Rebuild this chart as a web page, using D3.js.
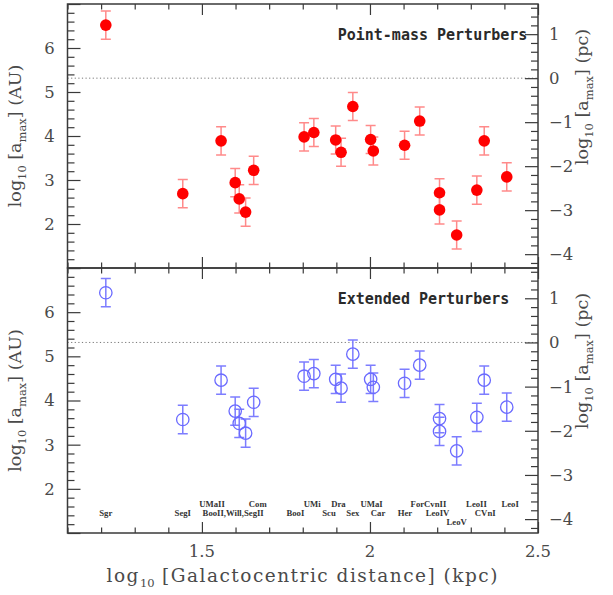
<!DOCTYPE html>
<html>
<head>
<meta charset="utf-8">
<script src="https://cdn.jsdelivr.net/npm/d3@7"></script>
<style>
  body { margin: 0; background: #fff; }
  svg { display: block; }
</style>
</head>
<body>
<svg id="chart" width="613" height="595"></svg>
<script>
'use strict';

// log10 of Galactocentric distance (kpc), one per satellite
var logDistance = [1.214, 1.443, 1.557, 1.599, 1.611, 1.630, 1.654, 1.804, 1.833, 1.898, 1.914,
                   1.949, 2.002, 2.010, 2.103, 2.148, 2.207, 2.207, 2.258, 2.318, 2.340, 2.407];

// log10 a_max (AU), point-mass perturbers
var pointMass = [6.52, 2.69, 3.89, 2.94, 2.57, 2.27, 3.22, 3.98, 4.08, 3.91, 3.63,
                 4.67, 3.92, 3.66, 3.79, 4.34, 2.71, 2.32, 1.75, 2.77, 3.89, 3.07];
var pointMassErr = [0.32, 0.32, 0.32, 0.32, 0.32, 0.32, 0.32, 0.32, 0.32, 0.32, 0.32,
                    0.32, 0.32, 0.32, 0.32, 0.32, 0.32, 0.32, 0.32, 0.32, 0.32, 0.32];

// log10 a_max (AU), extended perturbers
var extended = [6.44, 3.57, 4.46, 3.76, 3.48, 3.26, 3.96, 4.55, 4.61, 4.48, 4.28,
                5.05, 4.48, 4.30, 4.39, 4.80, 3.59, 3.30, 2.86, 3.62, 4.46, 3.85];
var extendedErr = [0.32, 0.32, 0.32, 0.32, 0.32, 0.32, 0.32, 0.32, 0.32, 0.32, 0.32,
                   0.32, 0.32, 0.32, 0.32, 0.32, 0.32, 0.32, 0.32, 0.32, 0.32, 0.32];

// satellite name labels: text, x position (log kpc), row (0 = top)
var labelNames = ['Sgr', 'SegI', 'UMaII', 'BooII,Will,SegII', 'Com', 'BooI', 'UMi', 'Scu', 'Dra', 'Sex',
                  'UMaI', 'Car', 'Her', 'ForCvnII', 'LeoIV', 'LeoV', 'LeoII', 'CVnI', 'LeoI'];
var labelX = [1.214, 1.443, 1.530, 1.593, 1.666, 1.778, 1.828, 1.878, 1.906, 1.949,
              2.005, 2.024, 2.104, 2.174, 2.201, 2.258, 2.317, 2.343, 2.417];
var labelRow = [1, 1, 0, 1, 0, 1, 0, 1, 0, 1, 0, 1, 1, 0, 1, 2, 0, 1, 0];
var labelRowValue = [1.58, 1.38, 1.19];

var xTicksMajor = [1.5, 2, 2.5];
var yTicksAU = [2, 3, 4, 5, 6];
var yTicksPc = [-4, -3, -2, -1, 0, 1];
var panelTitles = ['Point-mass Perturbers', 'Extended Perturbers'];

(function () {
    var AU_PER_PC = Math.log10(206265);

    var svg = d3.select('#chart');
    var plotLeft = 67.5, plotRight = 538, plotTop = 4, plotMid = 268, plotBottom = 533;
    var axisColor = '#3a3a3a';
    var labelColor = '#4a4a4a';
    var serif = '"DejaVu Serif", serif';

    var scaleX = d3.scaleLinear().domain([1.1, 2.5]).range([plotLeft, plotRight]);

    function minorTicks(lo, hi, step) {
        var out = [];
        for (var v = lo; v <= hi + 1e-9; v += step) out.push(+v.toFixed(4));
        return out;
    }

    function subscriptTitle(sel, parts) {
        // parts alternate normal / subscript text
        parts.forEach(function (p, i) {
            var t = sel.append('tspan').text(p);
            if (i % 2 === 1) t.attr('font-size', 11.5).attr('dy', 5).attr('letter-spacing', 0);
            else if (i > 0) t.attr('dy', -5);
        });
    }

    function drawPanel(y0, y1, values, errors, opts, title) {
        var scaleY = d3.scaleLinear().domain([1, 7]).range([y1, y0]);
        var scalePc = d3.scaleLinear().domain([1 - AU_PER_PC, 7 - AU_PER_PC]).range([y1, y0]);
        var g = svg.append('g');

        // dotted line at 1 pc
        g.append('line')
            .attr('x1', plotLeft).attr('x2', plotRight)
            .attr('y1', scalePc(0)).attr('y2', scalePc(0))
            .attr('stroke', '#777').attr('stroke-width', 1)
            .attr('stroke-dasharray', '1.2,2.4');

        // x ticks, top and bottom of the panel, pointing inward
        var xMinor = minorTicks(1.1, 2.5, 0.1);
        [[d3.axisBottom(scaleX), y1, -1], [d3.axisTop(scaleX), y0, 1]].forEach(function (a) {
            g.append('g')
                .attr('transform', 'translate(0,' + a[1] + ')')
                .call(a[0].tickValues(xMinor).tickFormat(''))
                .call(function (s) {
                    s.select('.domain').remove();
                    s.selectAll('.tick line').attr('stroke', axisColor).attr('stroke-width', 1.2)
                        .attr('y2', function (d) {
                            return a[2] * (xTicksMajor.indexOf(d) >= 0 ? 11 : 5.5);
                        });
                });
        });

        // left axis (AU)
        g.append('g')
            .attr('transform', 'translate(' + plotLeft + ',0)')
            .call(d3.axisLeft(scaleY).tickValues(minorTicks(1, 7, 0.2)).tickFormat(''))
            .call(function (s) {
                s.select('.domain').remove();
                s.selectAll('.tick line').attr('stroke', axisColor).attr('stroke-width', 1.2)
                    .attr('x2', function (d) { return Number.isInteger(d) ? 13 : 7; });
            });
        g.selectAll('.au-label').data(yTicksAU).enter().append('text')
            .attr('x', plotLeft - 18).attr('y', function (d) { return scaleY(d); })
            .attr('dy', '0.36em').attr('text-anchor', 'middle')
            .attr('font-family', serif).attr('font-size', 16.5).attr('fill', labelColor)
            .text(function (d) { return d; });

        // right axis (pc)
        g.append('g')
            .attr('transform', 'translate(' + plotRight + ',0)')
            .call(d3.axisRight(scalePc).tickValues(minorTicks(-4.2, 1.6, 0.2)).tickFormat(''))
            .call(function (s) {
                s.select('.domain').remove();
                s.selectAll('.tick line').attr('stroke', axisColor).attr('stroke-width', 1.2)
                    .attr('x2', function (d) { return Number.isInteger(d) ? -13 : -7; });
            });
        g.selectAll('.pc-label').data(yTicksPc).enter().append('text')
            .attr('x', plotRight + 11).attr('y', function (d) { return scalePc(d); })
            .attr('dy', '0.36em').attr('text-anchor', 'start')
            .attr('font-family', serif).attr('font-size', 16.5).attr('fill', labelColor)
            .text(function (d) { return d < 0 ? '\u2212' + Math.abs(d) : d; });

        // frame
        g.append('rect')
            .attr('x', plotLeft).attr('y', y0)
            .attr('width', plotRight - plotLeft).attr('height', y1 - y0)
            .attr('fill', 'none').attr('stroke', axisColor).attr('stroke-width', 1.5);

        // panel title
        g.append('text')
            .attr('x', scaleX(1.904)).attr('y', y0 + 36)
            .attr('font-family', '"DejaVu Sans Mono", monospace').attr('font-size', 15)
            .attr('font-weight', 'bold').attr('fill', '#2a2a2a')
            .text(title);

        // axis titles
        subscriptTitle(g.append('text')
            .attr('transform', 'translate(21,' + (y0 + y1) / 2 + ') rotate(-90)')
            .attr('text-anchor', 'middle')
            .attr('font-family', serif).attr('font-size', 17.5).attr('fill', labelColor),
            ['log', '10', ' [a', 'max', '] (AU)']);

        subscriptTitle(g.append('text')
            .attr('transform', 'translate(588,' + (y0 + 93) + ') rotate(-90)')
            .attr('text-anchor', 'middle')
            .attr('font-family', serif).attr('font-size', 17.5).attr('fill', labelColor),
            ['log', '10', ' [a', 'max', '] (pc)']);

        // error bars
        var bars = g.append('g').attr('stroke', opts.errColor).attr('stroke-width', 1.5).attr('fill', 'none');
        values.forEach(function (v, i) {
            var x = scaleX(logDistance[i]);
            var yHi = scaleY(v + errors[i]), yLo = scaleY(v - errors[i]);
            var path = d3.path();
            path.moveTo(x, yHi); path.lineTo(x, yLo);
            path.moveTo(x - 5, yHi); path.lineTo(x + 5, yHi);
            path.moveTo(x - 5, yLo); path.lineTo(x + 5, yLo);
            bars.append('path').attr('d', path.toString());
        });

        // markers
        g.append('g').selectAll('circle').data(values).enter().append('circle')
            .attr('cx', function (d, i) { return scaleX(logDistance[i]); })
            .attr('cy', function (d) { return scaleY(d); })
            .attr('r', opts.radius)
            .attr('fill', opts.fill)
            .attr('stroke', opts.stroke)
            .attr('stroke-width', opts.strokeWidth);

        return scaleY;
    }

    drawPanel(plotTop, plotMid, pointMass, pointMassErr,
        {errColor: '#ff8a8a', fill: '#ff0000', stroke: 'none', strokeWidth: 0, radius: 5.8},
        panelTitles[0]);

    var scaleYBottom = drawPanel(plotMid, plotBottom, extended, extendedErr,
        {errColor: '#7d7dff', fill: 'none', stroke: '#6a6aff', strokeWidth: 1.3, radius: 6.2},
        panelTitles[1]);

    // satellite names in the lower panel
    svg.append('g').selectAll('text').data(labelNames).enter().append('text')
        .attr('x', function (d, i) { return scaleX(labelX[i]); })
        .attr('y', function (d, i) { return scaleYBottom(labelRowValue[labelRow[i]]); })
        .attr('text-anchor', 'middle')
        .attr('font-family', '"Liberation Serif", serif').attr('font-size', 8.7)
        .attr('font-weight', 'bold').attr('fill', '#333')
        .text(function (d) { return d; });

    // x tick labels and title
    svg.append('g').selectAll('text').data(xTicksMajor).enter().append('text')
        .attr('x', function (d) { return scaleX(d); })
        .attr('y', 557)
        .attr('text-anchor', 'middle')
        .attr('font-family', serif).attr('font-size', 16.5).attr('fill', labelColor)
        .text(function (d) { return d; });

    subscriptTitle(svg.append('text')
        .attr('x', (plotLeft + plotRight) / 2).attr('y', 582)
        .attr('text-anchor', 'middle')
        .attr('font-family', serif).attr('font-size', 18.5).attr('letter-spacing', 1.5)
        .attr('fill', labelColor),
        ['log', '10', ' [Galactocentric distance] (kpc)']);
}());
</script>
</body>
</html>
